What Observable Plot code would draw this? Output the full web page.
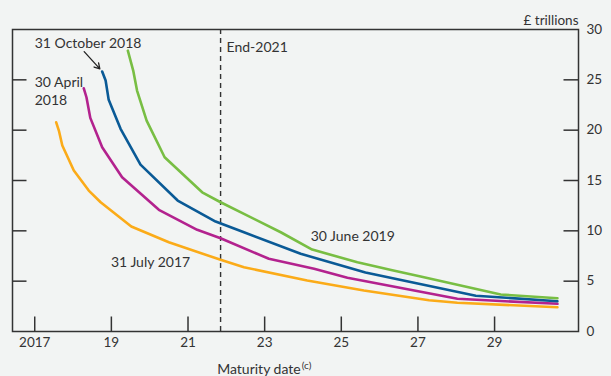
<!DOCTYPE html>
<html>
<head>
<meta charset="utf-8">
<script src="https://cdn.jsdelivr.net/npm/d3@7"></script>
<script src="https://cdn.jsdelivr.net/npm/@observablehq/plot@0.6"></script>
<style>
  html, body { margin: 0; padding: 0; background: #f2f4f3; }
  svg { display: block; }
</style>
</head>
<body>
<div id="chart"></div>
<script>
// ---- Data ----
const xTicks = [2017, 2019, 2021, 2023, 2025, 2027, 2029];
const xTickLabels = ["2017", "19", "21", "23", "25", "27", "29"];
const yTicks = [0, 5, 10, 15, 20, 25, 30];
const yInnerTicks = [5, 10, 15, 20, 25];
const endYear = 2021.85;

const july2017Years  = [2017.56, 2017.63, 2017.72, 2018.02, 2018.41, 2018.72, 2019.52, 2020.50, 2021.85, 2022.46, 2024.11, 2025.59, 2027.29, 2028.03, 2030.64];
const july2017Values = [20.78, 19.96, 18.47, 15.99, 14.00, 12.84, 10.43, 8.87, 7.12, 6.39, 5.06, 4.07, 3.11, 2.85, 2.41];

const april2018Years  = [2018.28, 2018.35, 2018.45, 2018.76, 2019.28, 2020.24, 2021.24, 2021.85, 2023.11, 2024.29, 2025.16, 2028.03, 2030.64];
const april2018Values = [24.16, 23.27, 21.22, 18.30, 15.32, 12.09, 10.10, 9.27, 7.22, 6.23, 5.33, 3.25, 2.75];

const oct2018Years  = [2018.76, 2018.85, 2018.93, 2019.24, 2019.76, 2020.73, 2021.72, 2022.46, 2023.94, 2025.63, 2028.51, 2030.64];
const oct2018Values = [25.82, 24.93, 23.01, 20.13, 16.58, 13.01, 10.92, 9.86, 7.72, 5.86, 3.55, 3.01];

const june2019Years  = [2019.43, 2019.57, 2019.67, 2019.92, 2020.39, 2021.37, 2021.85, 2022.46, 2023.42, 2024.24, 2025.42, 2026.33, 2027.07, 2029.16, 2030.64];
const june2019Values = [27.90, 25.92, 23.93, 20.95, 17.31, 13.83, 12.84, 11.69, 9.86, 8.14, 6.88, 6.09, 5.46, 3.67, 3.31];

const seriesNames  = ["31 July 2017", "30 April 2018", "31 October 2018", "30 June 2019"];
const seriesColors = ["#fbab18", "#b3228e", "#0a5a96", "#78be43"];

// ---- Build table ----
const seriesYears  = [july2017Years, april2018Years, oct2018Years, june2019Years];
const seriesValues = [july2017Values, april2018Values, oct2018Values, june2019Values];
const data = seriesNames.flatMap((name, i) =>
  seriesYears[i].map((yr, j) => ({series: name, year: yr, value: seriesValues[i][j]}))
);

const W = 611, H = 376;
const mL = 12, mR = 33, mT = 29, mB = 45;
const pw = W - mL - mR, ph = H - mT - mB;
const tickLen = 14.5;
const ink = "#333333";

const chart = Plot.plot({
  width: W,
  height: H,
  marginLeft: mL,
  marginRight: mR,
  marginTop: mT,
  marginBottom: mB,
  style: {background: "#f2f4f3", fontFamily: "Lato, 'Open Sans', sans-serif", fontSize: "14px", color: ink},
  x: {domain: [2016.42, 2031.19], axis: null},
  y: {domain: [0, 30], axis: null},
  color: {domain: seriesNames, range: seriesColors},
  marks: [
    // inward ticks
    Plot.tickX(xTicks, {x: d => d, stroke: ink, strokeWidth: 1.5, insetTop: ph - tickLen}),
    Plot.tickY(yInnerTicks, {y: d => d, stroke: ink, strokeWidth: 1.5, insetLeft: pw - tickLen}),
    Plot.tickY(yInnerTicks, {y: d => d, stroke: ink, strokeWidth: 1.5, insetRight: pw - tickLen}),
    // dashed end-2021 line
    Plot.ruleX([endYear], {stroke: ink, strokeWidth: 1.4, strokeDasharray: "5,4"}),
    // series lines
    Plot.line(data, {x: "year", y: "value", z: "series", stroke: "series", strokeWidth: 2.6, strokeLinejoin: "round"}),
    Plot.frame({stroke: ink, strokeWidth: 1.5}),
    // tick labels
    Plot.text(xTicks, {x: d => d, text: (d, i) => xTickLabels[i], frameAnchor: "bottom", dy: 15, fill: ink, fontSize: 13.5}),
    Plot.text(yTicks, {y: d => d, text: d => String(d), frameAnchor: "right", textAnchor: "start", dx: 8, fill: ink, fontSize: 13.5}),
    Plot.text(["£ trillions"], {frameAnchor: "top-right", textAnchor: "end", dy: -14, fill: ink, fontSize: 13.5}),
    Plot.text(["Maturity date"], {x: 2023.94, frameAnchor: "bottom", textAnchor: "end", dy: 42, fill: ink, fontSize: 14}),
    Plot.text(["(c)"], {x: 2023.94, frameAnchor: "bottom", textAnchor: "start", dx: 1, dy: 37, fill: ink, fontSize: 10}),
    // annotations
    Plot.text(["31 October 2018"], {x: 2017.0, y: 28.65, textAnchor: "start", fill: ink, fontSize: 14}),
    Plot.text(["30 April\n2018"], {x: 2017.0, y: 25.52, textAnchor: "start", lineAnchor: "top", lineHeight: 1.29, fill: ink, fontSize: 14}),
    Plot.text(["End-2021"], {x: endYear, y: 28.25, textAnchor: "start", dx: 6, fill: ink, fontSize: 14}),
    Plot.text(["31 July 2017"], {x: 2018.99, y: 6.9, textAnchor: "start", fill: ink, fontSize: 14}),
    Plot.text(["30 June 2019"], {x: 2024.20, y: 9.41, textAnchor: "start", fill: ink, fontSize: 14}),
    Plot.arrow([{x1: 2018.29, y1: 27.8, x2: 2018.70, y2: 26.09}], {x1: "x1", y1: "y1", x2: "x2", y2: "y2", stroke: "#222", strokeWidth: 1.3, headLength: 7})
  ]
});

document.getElementById("chart").appendChild(chart);
</script>
</body>
</html>
